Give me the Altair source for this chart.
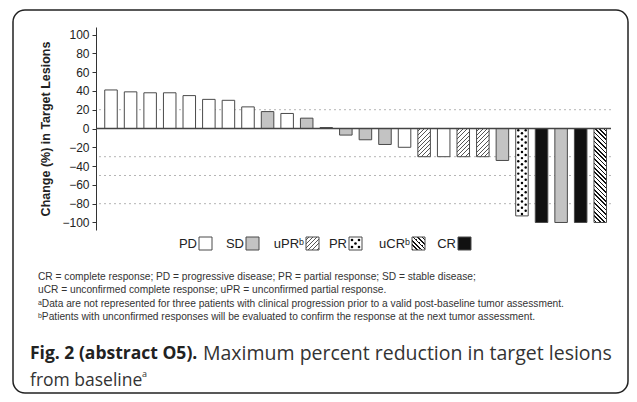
import altair as alt
import pandas as pd

# ---------------- data ----------------
patients = list(range(1, 27))
change = [41, 39, 38, 38, 35, 31, 30, 23, 18, 16, 11, 1,
          -7, -12, -17, -20, -30, -30, -30, -30, -34, -93,
          -100, -100, -100, -100]
response = ["PD", "PD", "PD", "PD", "PD", "PD", "PD", "PD",
            "SD", "PD", "SD", "SD", "SD", "SD", "SD", "PD",
            "uPR", "PD", "uPR", "uPR", "SD", "PR",
            "CR", "SD", "CR", "uCR"]
ref_lines = [20, -30, -50, -80]
y_ticks = [-100, -80, -60, -40, -20, 0, 20, 40, 60, 80, 100]
legend_labels = ["PD", "SD", "uPRᵇ", "PR", "uCRᵇ", "CR"]
notes = [
    "CR = complete response; PD = progressive disease; PR = partial response; SD = stable disease;",
    "uCR = unconfirmed complete response; uPR = unconfirmed partial response.",
    "ᵃData are not represented for three patients with clinical progression prior to a valid post-baseline tumor assessment.",
    "ᵇPatients with unconfirmed responses will be evaluated to confirm the response at the next tumor assessment.",
]
fig_bold = "Fig. 2 (abstract O5)."
fig_rest = "Maximum percent reduction in target lesions"
fig_line2 = "from baseline"

# ---------------- layout ----------------
W, H = 515, 203
Y_DOM = [-108, 108]
PAD_L, PAD_T = 88, 19
OX, OY = 8 + PAD_L, 8 + PAD_T  # page position of plot origin
STEP_PX = 19.57                # pixels per patient slot
X0 = 1 - 15 / STEP_PX          # left end of x domain
X_DOM = [X0, X0 + W / STEP_PX]
HALF = 0.32                    # half bar width in slot units
bw = 2 * HALF * STEP_PX
ppu = H / (Y_DOM[1] - Y_DOM[0])

SANS = "Liberation Sans, Arial, Helvetica, sans-serif"
CAP = "Open Sans, Noto Sans, sans-serif"
STROKE = "#4a4a4a"
GRAY = "#c3c3c3"
BLACK = "#111111"


def hatch(w, h, spacing, lw, color, direction="/"):
    k = (w + h) / (w * w + h * h)
    if direction == "/":
        x1, y1, x2, y2 = 0, 0, w * k, h * k
    else:
        x1, y1, x2, y2 = 1, 0, 1 - w * k, h * k
    L = w + h
    stops = [{"offset": 0, "color": "white"}]
    pos = spacing / 2
    while pos + lw < L:
        a, b = pos / L, (pos + lw) / L
        stops += [{"offset": a, "color": "white"}, {"offset": a, "color": color},
                  {"offset": b, "color": color}, {"offset": b, "color": "white"}]
        pos += spacing
    stops.append({"offset": 1, "color": "white"})
    return {"gradient": "linear", "x1": x1, "y1": y1, "x2": x2, "y2": y2, "stops": stops}


df = pd.DataFrame({"patient": patients, "change": change, "response": response})
refs = pd.DataFrame({"v": ref_lines})
one = pd.DataFrame({"k": [0]})

x_scale = alt.Scale(domain=X_DOM, nice=False, zero=False)
y_scale = alt.Scale(domain=Y_DOM, nice=False, zero=False)
y_axis = alt.Axis(values=y_ticks, title="Change (%) in Target Lesions",
                  grid=False, domainColor="#333", tickColor="#333", tickSize=4,
                  labelOverlap=False, labelFlush=False,
                  labelFont=SANS, labelFontSize=12, labelColor="#222", labelPadding=3,
                  titleFont=SANS, titleFontSize=12.5, titleFontWeight="bold",
                  titleColor="#222", titlePadding=9)

bars = alt.Chart(df).transform_calculate(
    xa=f"datum.patient - {HALF}", xb=f"datum.patient + {HALF}")


def bar_layer(filter_pred, **mark_kw):
    return bars.transform_filter(filter_pred).mark_rect(stroke=STROKE, strokeWidth=1, **mark_kw).encode(
        x=alt.X("xa:Q", scale=x_scale, axis=None), x2="xb:Q",
        y=alt.Y("change:Q", scale=y_scale, axis=y_axis), y2=alt.datum(0))


ref_layer = alt.Chart(refs).mark_rule(color="#b5b5b5", strokeDash=[2, 3], strokeWidth=1).encode(
    y=alt.Y("v:Q", scale=y_scale, axis=y_axis))

plain = bars.transform_filter(
    alt.FieldOneOfPredicate(field="response", oneOf=["PD", "SD", "CR"])
).mark_rect(stroke=STROKE, strokeWidth=1).encode(
    x=alt.X("xa:Q", scale=x_scale, axis=None), x2="xb:Q",
    y=alt.Y("change:Q", scale=y_scale, axis=y_axis), y2=alt.datum(0),
    fill=alt.Fill("response:N", scale=alt.Scale(domain=["PD", "SD", "CR"], range=["white", GRAY, BLACK]),
                  legend=None))

upr = bar_layer(alt.datum.response == "uPR", fill=hatch(bw, 30 * ppu, 4.2, 1.0, "#555555", "/"))
ucr = bar_layer(alt.datum.response == "uCR", fill=hatch(bw, 100 * ppu, 4.4, 1.6, "#111111", "\\"))
pr = bar_layer(alt.datum.response == "PR", fill="white")

# dot texture for the PR bar
pr_val = [c for c, r in zip(change, response) if r == "PR"][0]
pr_pat = [p for p, r in zip(patients, response) if r == "PR"][0]
dots = []
yv, row = -1.8, 0
while yv > pr_val + 1.2:
    offs = [-0.19, 0.19] if row % 2 == 0 else [0.0]
    for o in offs:
        dots.append({"px": pr_pat + o, "change": yv})
    yv -= 3.3
    row += 1
dots_df = pd.DataFrame(dots)
pr_dots = alt.Chart(dots_df).mark_circle(size=6, color="#000", opacity=1).encode(
    x=alt.X("px:Q", scale=x_scale, axis=None),
    y=alt.Y("change:Q", scale=y_scale, axis=y_axis))

zero = alt.Chart(one).mark_rule(color="#444", strokeWidth=1.3).encode(
    y=alt.Y(datum=0, scale=y_scale, axis=y_axis))

layers = [ref_layer, plain, upr, ucr, pr, pr_dots, zero]

# ---------------- legend (custom) ----------------
sw_left = [199, 246, 306, 349, 412, 458]
sw_y0, sw_size = 237, 13
sw_fill = ["white", GRAY, hatch(13, 13, 4.2, 1.0, "#555555", "/"), "white",
           hatch(13, 13, 4.4, 1.6, "#111111", "\\"), BLACK]
for lab, xl, f in zip(legend_labels, sw_left, sw_fill):
    layers.append(alt.Chart(one).mark_rect(fill=f, stroke=STROKE, strokeWidth=1).encode(
        x=alt.value(xl - OX), x2=alt.value(xl + sw_size - OX),
        y=alt.value(sw_y0 - OY), y2=alt.value(sw_y0 + sw_size - OY)))
    layers.append(alt.Chart(one).mark_text(text=lab, font=SANS, fontSize=13, color="#222",
                                           align="right", baseline="middle").encode(
        x=alt.value(xl - 2 - OX), y=alt.value(sw_y0 + sw_size / 2 + 0.5 - OY)))
# PR swatch dots
prx = sw_left[3]
for dx, dy in [(3, 3), (10, 3), (6.5, 6.5), (3, 10), (10, 10)]:
    layers.append(alt.Chart(one).mark_circle(size=7, color="#000", opacity=1).encode(
        x=alt.value(prx + dx - OX), y=alt.value(sw_y0 + dy - OY)))

# ---------------- notes and caption ----------------
for s, yy in zip(notes, [277, 290, 304, 317]):
    layers.append(alt.Chart(one).mark_text(text=s, font=SANS, fontSize=10.2, color="#333",
                                           align="left", baseline="middle").encode(
        x=alt.value(38 - OX), y=alt.value(yy - OY)))

layers.append(alt.Chart(one).mark_text(text=fig_bold, font=CAP, fontSize=17.5, fontWeight="bold",
                                       color="#222", align="left", baseline="middle").encode(
    x=alt.value(30 - OX), y=alt.value(354 - OY)))
layers.append(alt.Chart(one).mark_text(text=fig_rest, font=CAP, fontSize=19.5, color="#333",
                                       align="left", baseline="middle").encode(
    x=alt.value(203 - OX), y=alt.value(354 - OY)))
layers.append(alt.Chart(one).mark_text(text=fig_line2, font=CAP, fontSize=17.5, color="#333",
                                       align="left", baseline="middle").encode(
    x=alt.value(30 - OX), y=alt.value(381 - OY)))
layers.append(alt.Chart(one).mark_text(text="a", font=CAP, fontSize=9, color="#333",
                                       align="left", baseline="middle").encode(
    x=alt.value(142 - OX), y=alt.value(374 - OY)))

# outer rounded frame
layers.append(alt.Chart(one).mark_rect(fill="transparent", stroke="#222", strokeWidth=1.5,
                                       cornerRadius=12).encode(
    x=alt.value(13 - OX), x2=alt.value(628 - OX), y=alt.value(10 - OY), y2=alt.value(393 - OY)))

chart = alt.layer(*layers).properties(
    width=W, height=H,
    autosize=alt.AutoSizeParams(type="none"),
    padding={"left": PAD_L, "top": PAD_T, "right": 621 - PAD_L - W, "bottom": 386 - PAD_T - H},
    background="white",
).configure_view(stroke=None)

chart.save("out.html", embed_options={"renderer": "svg", "actions": False})
